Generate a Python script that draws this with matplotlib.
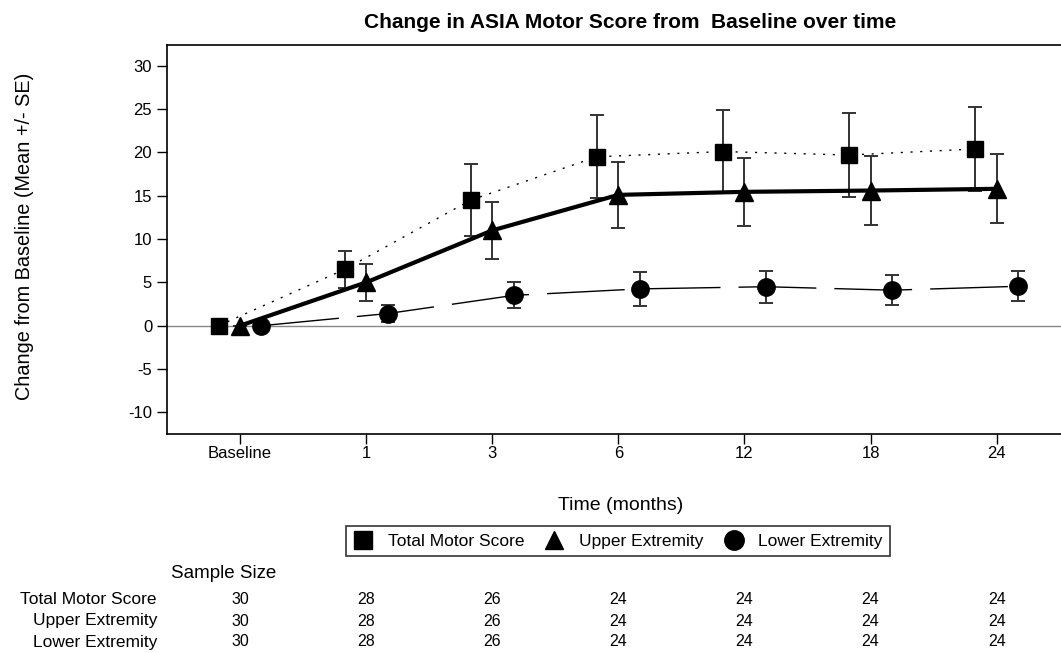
import numpy as np
import matplotlib
matplotlib.use("Agg")
from matplotlib import pyplot as plt
from matplotlib.lines import Line2D
from matplotlib.transforms import blended_transform_factory

plt.rcParams['font.family'] = ['Liberation Sans', 'DejaVu Sans']
plt.rcParams['axes.unicode_minus'] = False

timepoints = ["Baseline", "1", "3", "6", "12", "18", "24"]

# mean change from baseline and standard error
total_mean = [0, 6.5, 14.5, 19.5, 20.1, 19.7, 20.4]
total_se = [0, 2.1, 4.2, 4.8, 4.8, 4.9, 4.9]
upper_mean = [0, 5.0, 11.0, 15.1, 15.45, 15.6, 15.8]
upper_se = [0, 2.1, 3.3, 3.8, 3.95, 4.0, 4.0]
lower_mean = [0, 1.4, 3.5, 4.25, 4.5, 4.1, 4.55]
lower_se = [0, 1.0, 1.5, 1.95, 1.85, 1.75, 1.75]

row_labels = ["Total Motor Score", "Upper Extremity", "Lower Extremity"]
sample_total = [30, 28, 26, 24, 24, 24, 24]
sample_upper = [30, 28, 26, 24, 24, 24, 24]
sample_lower = [30, 28, 26, 24, 24, 24, 24]

W, H = 1061, 653
fig = plt.figure(figsize=(W / 100, H / 100), dpi=100)
ax = fig.add_axes([167 / W, 1 - 434 / H, 0.845, (434 - 45) / H])

x = np.arange(len(timepoints))
err_kw = dict(ecolor="#333333", elinewidth=1.4, capsize=5, capthick=1.4)

ax.axhline(0, color="#888888", lw=1, zorder=1)

ax.errorbar(x - 0.17, total_mean, yerr=total_se, fmt="none", zorder=2, **err_kw)
ax.plot(x - 0.17, total_mean, color="black", lw=1, ls=(0, (1.5, 5.5)), marker="s",
        ms=11.5, mfc="black", mec="black", zorder=3)

ax.errorbar(x, upper_mean, yerr=upper_se, fmt="none", zorder=2, **err_kw)
ax.plot(x, upper_mean, color="black", lw=3, ls="-", marker="^",
        ms=12.5, mfc="black", mec="black", zorder=3)

ax.errorbar(x + 0.17, lower_mean, yerr=lower_se, fmt="none", zorder=2, **err_kw)
ax.plot(x + 0.17, lower_mean, color="black", lw=1, ls=(0, (56, 13)), marker="o",
        ms=12.5, mfc="black", mec="black", zorder=3)

ax.set_xlim(-0.579, 6.53)
ax.set_ylim(-12.5, 32.4)
ax.set_xticks(x)
ax.set_xticklabels(timepoints)
ax.set_yticks(np.arange(-10, 31, 5))
ax.tick_params(axis="both", direction="out", length=7.2, width=1, labelsize=12)
ax.tick_params(axis="x", pad=1.5)
ax.tick_params(axis="y", pad=3.5)
ax.spines["right"].set_visible(False)
for s in ["top", "left", "bottom"]:
    ax.spines[s].set_linewidth(1.2)

fig.text(630 / W, 1 - 22 / H, "Change in ASIA Motor Score from  Baseline over time",
         fontsize=15, fontweight="bold", ha="center", va="center")
fig.text(621 / W, 1 - 505 / H, "Time (months)", fontsize=14, ha="center", va="center")
fig.text(25 / W, 1 - 236 / H, "Change from Baseline (Mean +/- SE)", fontsize=14.3,
         ha="center", va="center", rotation=90)

handles = [
    Line2D([], [], ls="none", marker="s", ms=13, color="black"),
    Line2D([], [], ls="none", marker="^", ms=13.5, color="black"),
    Line2D([], [], ls="none", marker="o", ms=14, color="black"),
]
leg = fig.legend(handles, row_labels, loc="center", bbox_to_anchor=(618 / W, 1 - 541 / H),
                 ncol=3, frameon=True, fontsize=12.5, handletextpad=0.85,
                 columnspacing=1.2, handlelength=1.1, borderpad=0.45, fancybox=False,
                 edgecolor="black")
leg.get_frame().set_linewidth(1.2)

# sample size table
fig.text(171 / W, 1 - 573 / H, "Sample Size", fontsize=13.5, va="center", ha="left")
trans = blended_transform_factory(ax.transData, fig.transFigure)
row_y = [1 - 600 / H, 1 - 621 / H, 1 - 642 / H]
for label, counts, yy in zip(row_labels, [sample_total, sample_upper, sample_lower], row_y):
    fig.text(157 / W, yy, label, fontsize=12.5, ha="right", va="center")
    for xi, n in zip(x, counts):
        ax.text(xi, yy, str(n), transform=trans, fontsize=11.5, ha="center", va="center")

fig.savefig("out.png", dpi=100)
